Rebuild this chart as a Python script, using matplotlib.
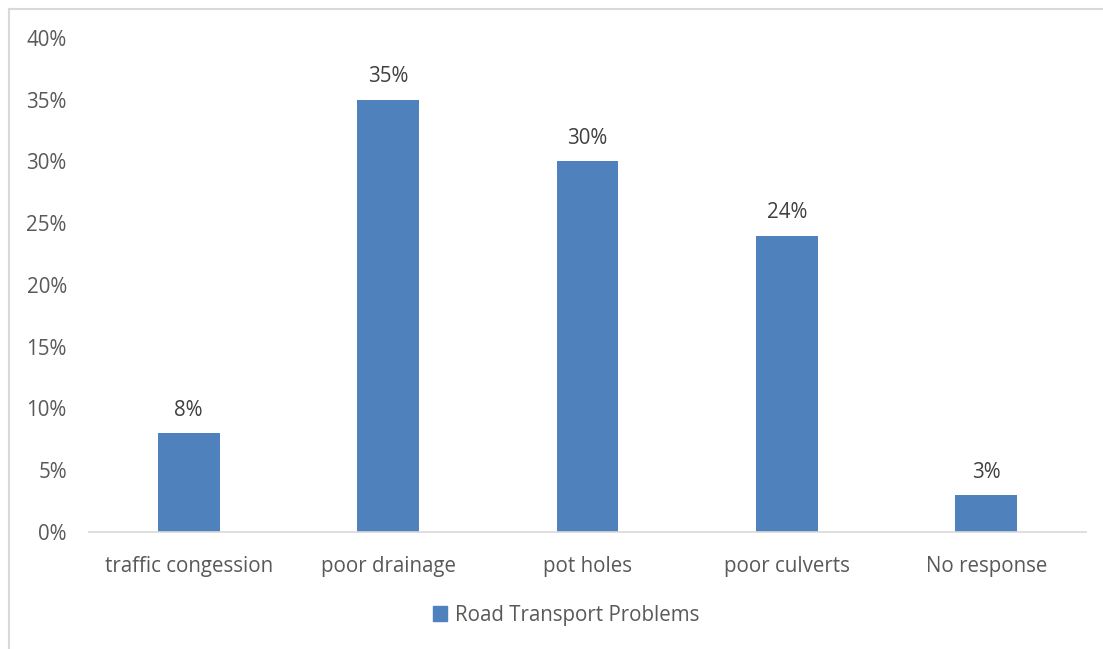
import matplotlib.pyplot as plt
from matplotlib.lines import Line2D
from matplotlib.patches import Patch

categories = ["traffic congession", "poor drainage", "pot holes", "poor culverts", "No response"]
values = [8, 35, 30, 24, 3]
yticks = [0, 5, 10, 15, 20, 25, 30, 35, 40]

bar_color = "#4F81BD"
text_color = "#595959"
plt.rcParams['font.family'] = ['Open Sans', 'DejaVu Sans']
fs = 14.8

W, H = 1103, 649
fig = plt.figure(figsize=(W / 100, H / 100), dpi=100)
ax = fig.add_axes([89 / W, 117 / H, (1086 - 89) / W, (532 - 38) / H])

x = range(len(categories))
bars = ax.bar(x, values, width=0.31, color=bar_color, label="Road Transport Problems", zorder=2)
for b, v in zip(bars, values):
    ax.text(b.get_x() + b.get_width() / 2, v + 1.0, f"{v}%", ha="center", va="bottom",
            fontsize=fs, color="#404040")

ax.set_xlim(-0.5, len(categories) - 0.5)
ax.set_ylim(0, 40)
ax.set_yticks(yticks)
ax.set_yticklabels([f"{t}%" for t in yticks])
ax.set_xticks(list(x))
ax.set_xticklabels(categories)
ax.tick_params(axis="both", length=0, labelsize=fs, labelcolor=text_color)
ax.tick_params(axis="y", pad=16)
ax.tick_params(axis="x", pad=17)
for s in ["top", "right", "left"]:
    ax.spines[s].set_visible(False)
ax.spines["bottom"].set_color("#D9D9D9")
ax.spines["bottom"].set_linewidth(1.2)

fig.legend(handles=[Patch(color=bar_color, label="Road Transport Problems")],
           loc="center", bbox_to_anchor=(566 / W, 1 - 615 / H), frameon=False,
           fontsize=fs, labelcolor=text_color, handlelength=0.7, handleheight=0.7,
           handletextpad=0.35)

# chart border (left and top edges visible in reference)
fig.add_artist(Line2D([8.5 / W, 8.5 / W], [0, 1 - 9 / H], color="#D9D9D9", lw=1.5, transform=fig.transFigure))
fig.add_artist(Line2D([8.5 / W, 1], [1 - 9 / H, 1 - 9 / H], color="#D9D9D9", lw=1.5, transform=fig.transFigure))

fig.savefig("out.png", dpi=100)
